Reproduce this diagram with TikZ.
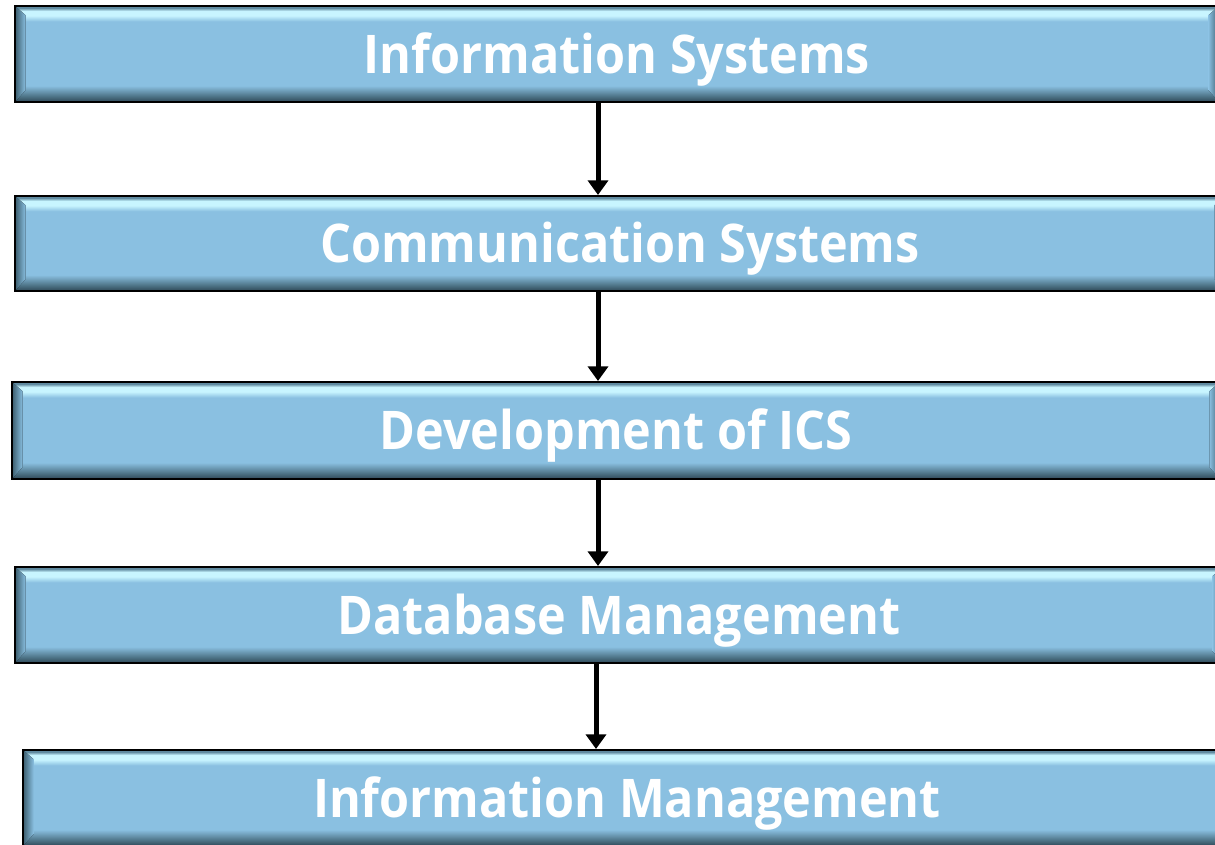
\documentclass[tikz,border=0pt]{standalone}
\usepackage{fontspec}
\setmainfont{Open Sans}[FakeStretch=0.91]
\usetikzlibrary{arrows.meta}
\usetikzlibrary{calc}

\definecolor{barMain}{RGB}{138,192,225}
\definecolor{barLight}{RGB}{200,245,255}
\definecolor{barTop}{RGB}{95,138,160}
\definecolor{barLow}{RGB}{77,115,134}
\definecolor{barDark}{RGB}{46,71,86}
\definecolor{barSide}{RGB}{58,92,108}

\pgfdeclareverticalshading{barshade}{100bp}{color(0bp)=(barDark); color(25bp)=(barDark); color(28bp)=(barLow); color(33.5bp)=(barMain); color(67bp)=(barMain); color(70bp)=(barLight); color(72.4bp)=(barLight); color(74bp)=(barTop); color(75bp)=(barTop); color(100bp)=(barTop)}

\tikzset{
  bevel/.style={path picture={
    \coordinate (pnw) at (path picture bounding box.north west);
    \coordinate (psw) at (path picture bounding box.south west);
    \coordinate (pne) at (path picture bounding box.north east);
    \coordinate (pse) at (path picture bounding box.south east);
    \fill[left color=barSide, right color=barMain]
      (pnw) -- (psw) -- ($([xshift=8pt]psw)!9pt!([xshift=8pt]pnw)$)
      -- ($([xshift=8pt]pnw)!7pt!([xshift=8pt]psw)$) -- cycle;
    \fill[right color=barSide, left color=barMain]
      (pne) -- (pse) -- ($([xshift=-8pt]pse)!9pt!([xshift=-8pt]pne)$)
      -- ($([xshift=-8pt]pne)!7pt!([xshift=-8pt]pse)$) -- cycle;
  }},
  bar/.style={rectangle, draw=black, line width=1.5pt, shade, shading=barshade,
    text=white, font=\fontsize{40}{48}\selectfont\bfseries,
    text height=28.5pt, text depth=0pt, inner sep=0pt,
    minimum height=72pt, minimum width=906pt, bevel},
  flow/.style={-{Triangle[width=15pt,length=11pt]}, line width=3.75pt}
}

\begin{document}
\begin{tikzpicture}[x=0.75pt,y=0.75pt,yscale=-1,xscale=1]
\useasboundingbox (0,0) rectangle (1215,844);
\clip (0,0) rectangle (1215,844);

% bars
\node [bar, minimum width=903pt] (b1) at (617,54) {Information Systems};
\node [bar, minimum width=907.5pt, minimum height=71.25pt] (b2) at (620,243.5) {Communication Systems};
\node [bar, minimum height=72.75pt] (b3) at (616,430.5) {Development of ICS};
\node [bar] (b4) at (619,615) {Database Management};
\node [bar] (b5) at (627,798) {Information Management};

% arrows
\coordinate (axis) at (598,0);
\coordinate (axisb) at (596,0);
\draw [flow] (b1.south -| axis) -- (b2.north -| axis);
\draw [flow] (b2.south -| axis) -- (b3.north -| axis);
\draw [flow] (b3.south -| axis) -- (b4.north -| axis);
\draw [flow] (b4.south -| axisb) -- (b5.north -| axisb);

\end{tikzpicture}
\end{document}
